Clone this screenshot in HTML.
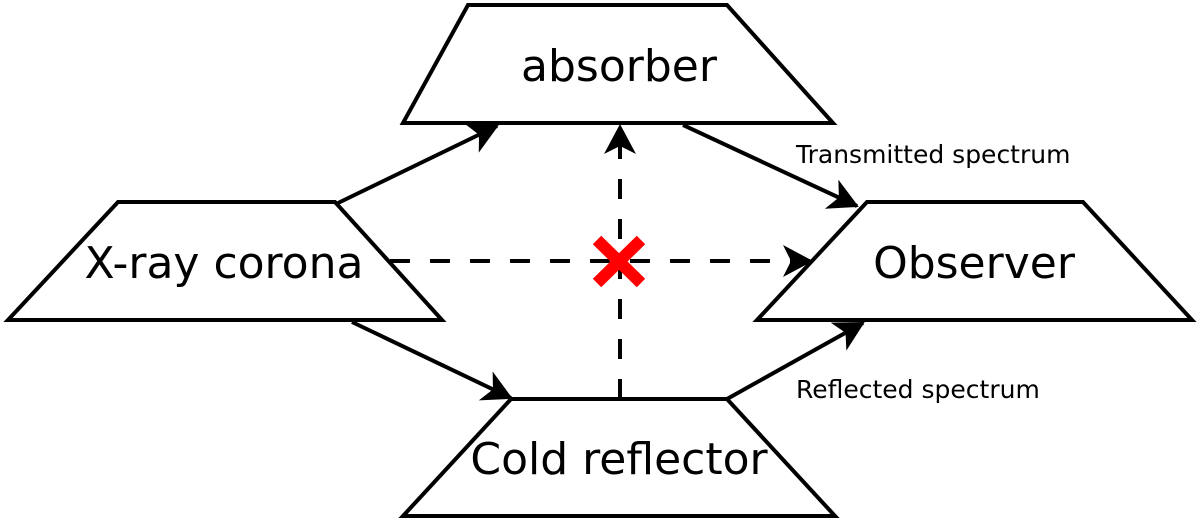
<!DOCTYPE html>
<html><head><style>html,body{margin:0;padding:0;background:#fff}svg{display:block}</style></head>
<body>
<svg width="1200" height="521" viewBox="0 0 1200 521" xmlns="http://www.w3.org/2000/svg" font-family="DejaVu Sans, Liberation Sans, sans-serif">
<defs>
<marker id="a" markerUnits="userSpaceOnUse" markerWidth="44" markerHeight="44" refX="28" refY="16" orient="auto">
<path d="M30,16 L0,0 L8,16 L0,32 Z" fill="#000"/>
</marker>
</defs>
<g fill="#fff" stroke="#000" stroke-width="4" stroke-linejoin="miter">
<polygon points="468,5 727,5 833,123 403,123"/>
<polygon points="118,202 335,202 442,320 8,320"/>
<polygon points="867,202 1083,202 1192,320 757,320"/>
<polygon points="511,399 727,399 835,516 403,516"/>
</g>
<g stroke="#000" stroke-width="4" fill="none">
<line x1="338" y1="203" x2="497" y2="126" marker-end="url(#a)"/>
<line x1="683" y1="125" x2="857" y2="206" marker-end="url(#a)"/>
<line x1="352" y1="322" x2="511" y2="398" marker-end="url(#a)"/>
<line x1="727" y1="399" x2="863" y2="323" marker-end="url(#a)"/>
<line x1="390" y1="261" x2="811" y2="261" stroke-dasharray="20,20" marker-end="url(#a)"/>
<line x1="620" y1="399" x2="620" y2="126" stroke-dasharray="20,20" marker-end="url(#a)"/>
</g>
<g stroke="#f00" stroke-width="12">
<line x1="597" y1="240" x2="641" y2="283"/>
<line x1="641" y1="240" x2="597" y2="283"/>
</g>
<g font-size="44" text-anchor="middle" fill="#000">
<text x="619" y="81">absorber</text>
<text x="224" y="278">X-ray corona</text>
<text x="974" y="278">Observer</text>
<text x="619" y="474">Cold reflector</text>
</g>
<g font-size="25" fill="#000">
<text x="796" y="163">Transmitted spectrum</text>
<text x="796" y="398">Reflected spectrum</text>
</g>
</svg>
</body></html>
